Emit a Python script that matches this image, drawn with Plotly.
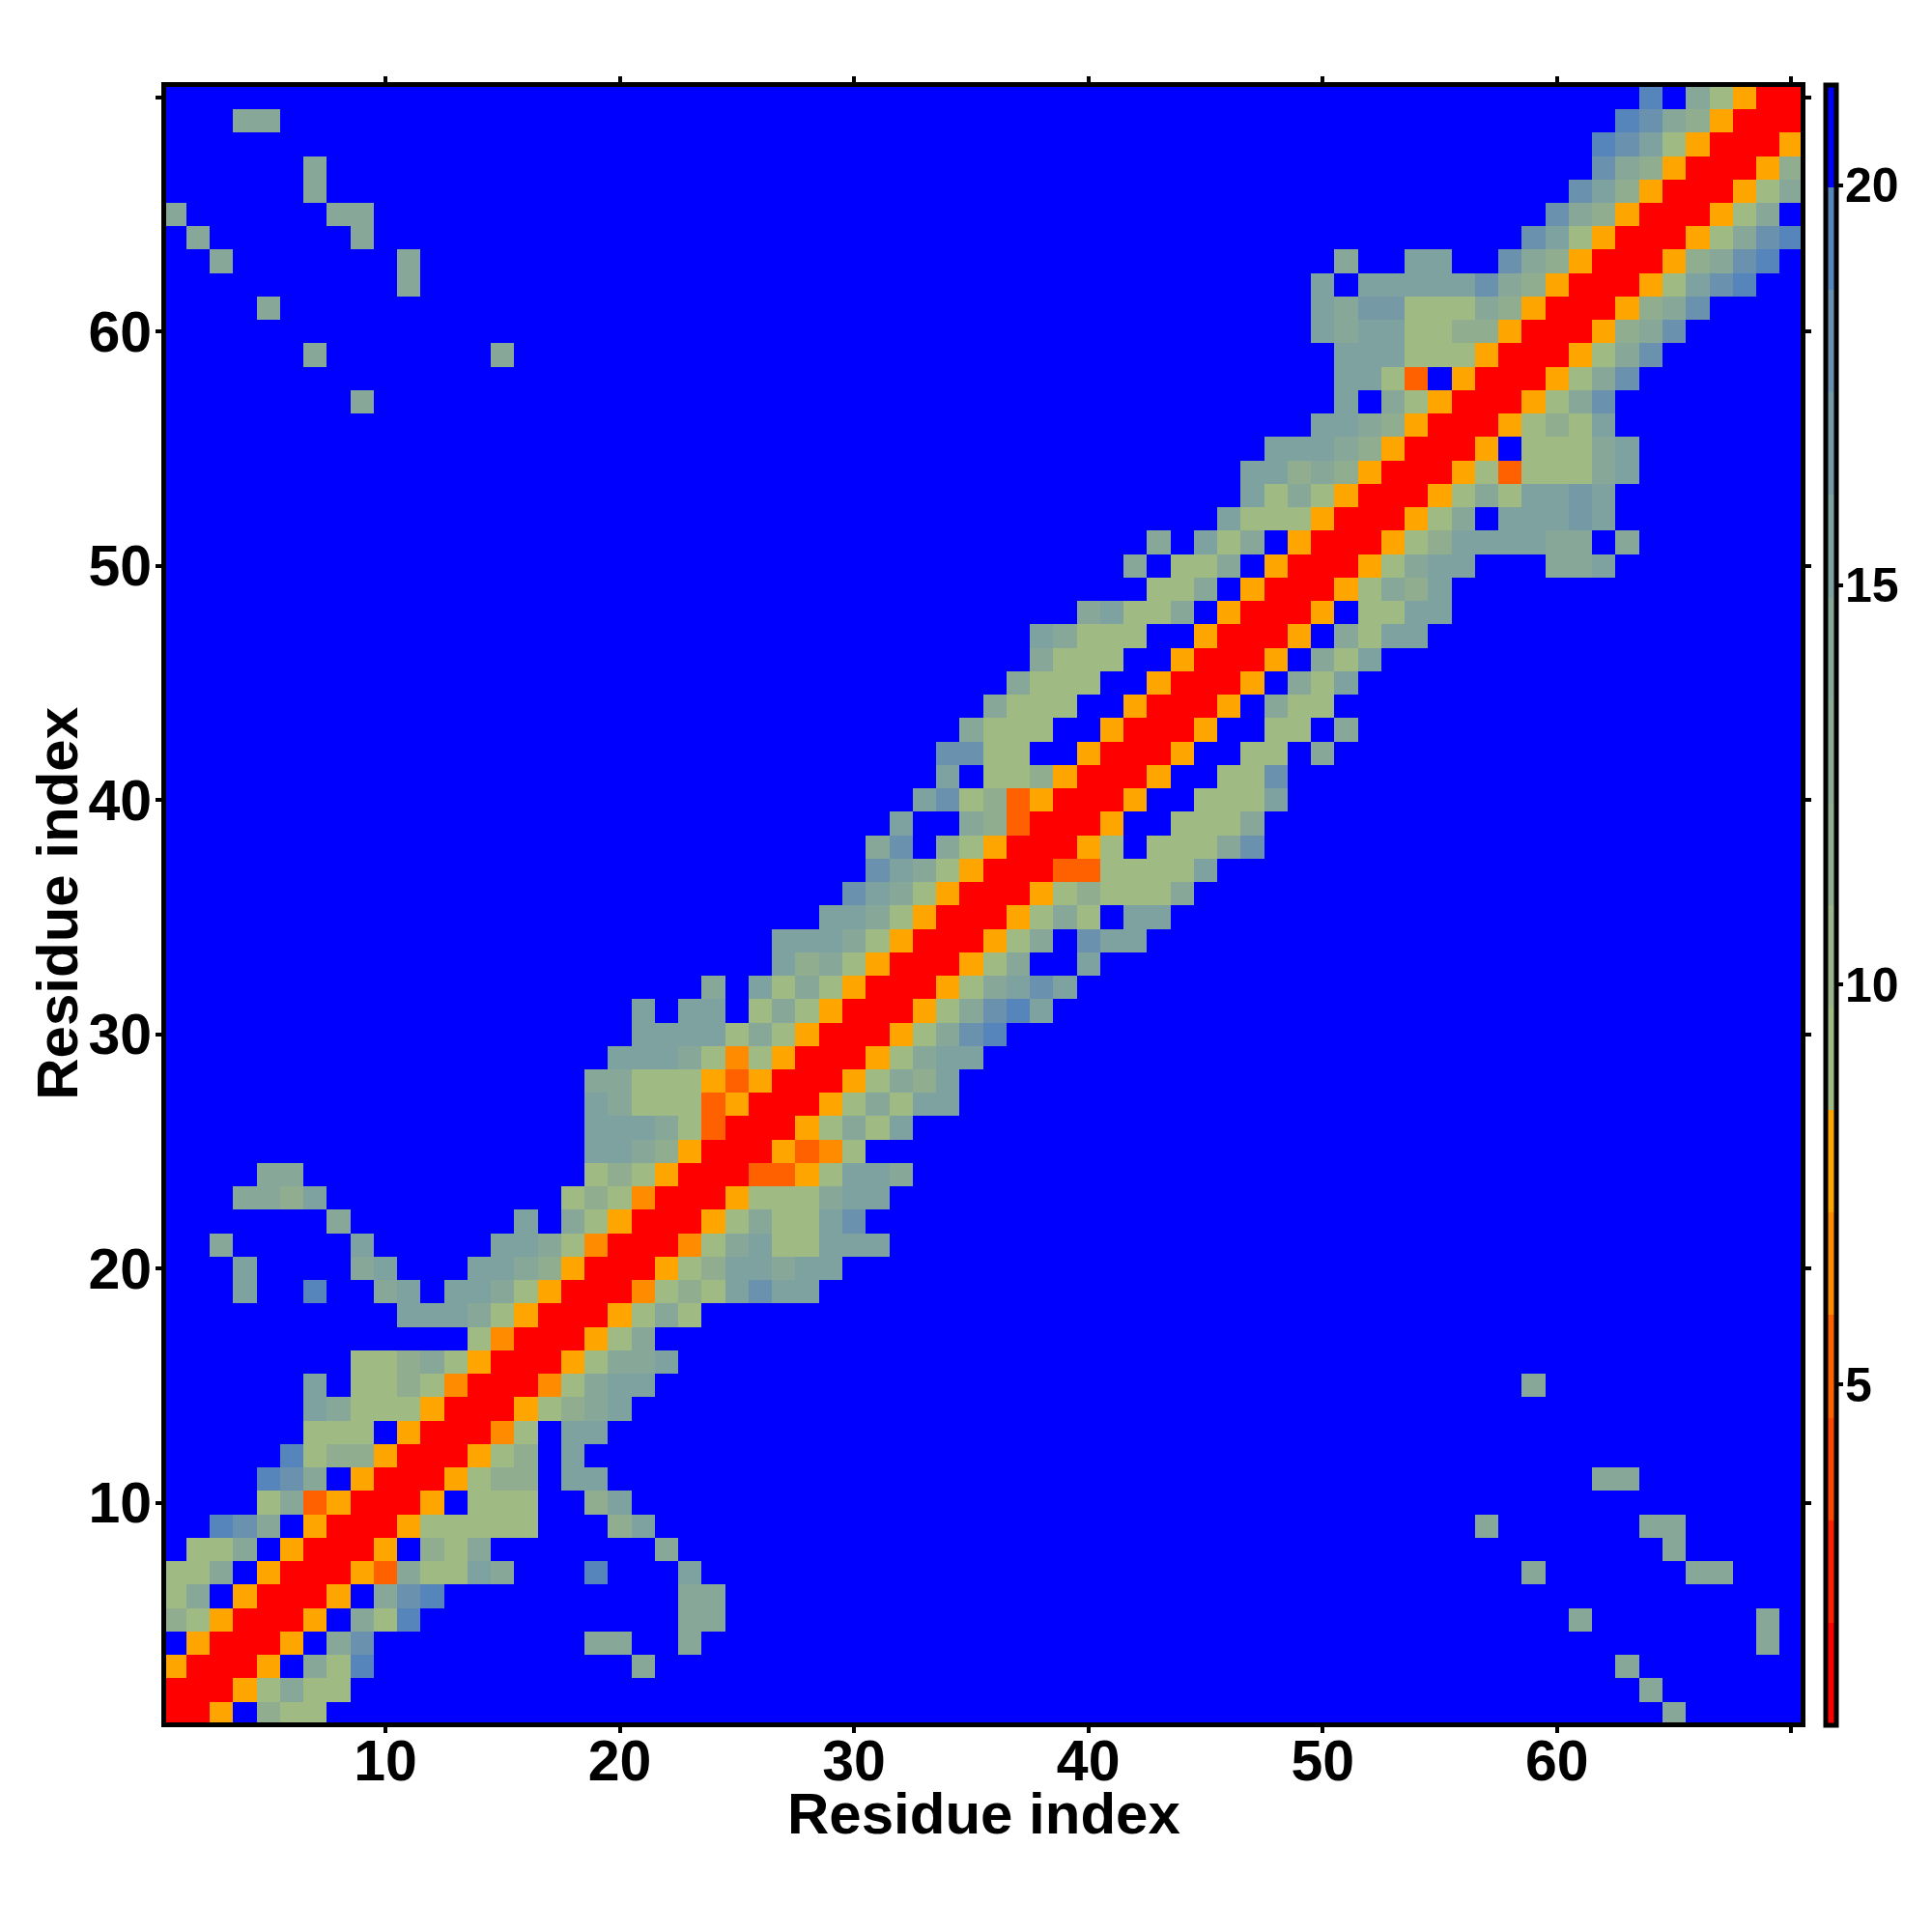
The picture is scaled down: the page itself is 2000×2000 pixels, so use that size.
import plotly.graph_objects as go

# Residue contact-distance map, binned colour levels.
residues = list(range(1, 71))
tick_values = [10, 20, 30, 40, 50, 60, 70]
tick_labels = ["10", "20", "30", "40", "50", "60", ""]
colorbar_ticks = [5, 10, 15, 20]
axis_title = "Residue index"

zmin = 0.73
zmax = 21.25
band_colors = ["#ff0000", "#ff2000", "#ff4500", "#ff6000", "#ff8c00", "#ffa500",
               "#a0ba84", "#99b589", "#90ae8f", "#8aaa94", "#87a898", "#7ea29f",
               "#7699a6", "#6a92ae", "#5585ba", "#0000ff"]
# symbol -> colour band of the reading
code_band = {"R": 0, "F": 3, "D": 4, "O": 5, "6": 6, "7": 8, "8": 10, "9": 11,
             "c": 12, "a": 13, "b": 14, ".": 15}

# row (residue y) -> runs of (first residue x, readings); everything else is the far band
rows = {
    1: [(1, "RRO.766"), (65, "8")],
    2: [(1, "RRRO6866"), (64, "8")],
    3: [(1, "ORRRO.86b"), (21, "8"), (63, "8")],
    4: [(1, ".ORRRO.8a"), (19, "88"), (23, "8"), (69, "8")],
    5: [(1, "76ORRRO.86b"), (23, "88"), (61, "8"), (69, "8")],
    6: [(1, "68.ORRRO.8ab"), (23, "88")],
    7: [(1, "668.ORRROF86698"), (19, "b"), (23, "9"), (59, "8"), (66, "88")],
    8: [(1, ".668.ORRRO.768"), (22, "8"), (65, "8")],
    9: [(3, "ba8.ORRRO66666"), (20, "79"), (57, "8"), (64, "88")],
    10: [(5, "68FORRRO.666"), (19, "79")],
    11: [(5, "ba8.ORRRO677"), (18, "99"), (62, "88")],
    12: [(6, "b677ORRRO67"), (18, "9")],
    13: [(7, "666.ORRRD6"), (18, "99")],
    14: [(7, "98666ORRRO6789")],
    15: [(7, "9.6676DRRRD6899"), (59, "8")],
    16: [(9, "66786ORRRO6889")],
    17: [(14, "6DRRRO68")],
    18: [(11, "99986ORRRO686")],
    19: [(4, "9"), (7, "b"), (10, "89"), (13, "9986ORRRD6769a99")],
    20: [(4, "9"), (9, "89"), (14, "9987ORRRO6799899")],
    21: [(3, "8"), (9, "9"), (15, "9986DRRRD68966999")],
    22: [(8, "8"), (16, "9"), (18, "86ORRRO68669a")],
    23: [(4, "8879"), (18, "676DRRRO666899")],
    24: [(5, "88"), (19, "676ORRRFFO6998")],
    25: [(19, "9987ORRROFD6")],
    26: [(19, "99986FRRRO6869")],
    27: [(19, "98666FORRRO68699")],
    28: [(19, "88666OFORRRO6879")],
    29: [(20, "99986D6ORRRO6899")],
    30: [(21, "9999686ORRRO68ab")],
    31: [(21, "9.99.686ORRRO68ab9")],
    32: [(24, "8.9686ORRRO689a9")],
    33: [(27, "9786ORRRO68"), (40, "9")],
    34: [(27, "99986ORRRO68.a99")],
    35: [(29, "9986ORRRO686.99")],
    36: [(30, "a986ORRRO676668")],
    37: [(31, "a986ORRRFF66669")],
    38: [(31, "8a.86ORRRO6.6668a")],
    39: [(32, "9..87FRRRO..6668")],
    40: [(33, "9a67FORRRO..6669")],
    41: [(34, "9.667ORRRO..66a")],
    42: [(34, "aa66..ORRRO..66.8")],
    43: [(35, "8666..ORRRO..66.8")],
    44: [(36, "8666..ORRRO.866")],
    45: [(37, "8666..ORRRO.869")],
    46: [(38, "8666..ORRRO.869")],
    47: [(38, "98666..ORRRO.8699")],
    48: [(40, "89668.ORRRO.6699")],
    49: [(43, "668.ORRRO6879")],
    50: [(42, "8.668.ORRRO6899"), (60, "889")],
    51: [(43, "8.968.ORRRO67999988.8")],
    52: [(46, "9666ORRRO68.999c9")],
    53: [(47, "9686ORRRO68699c9")],
    54: [(47, "99787ORRRO6F66689")],
    55: [(48, "99987ORRRO.66689")],
    56: [(50, "9987ORRRO6769")],
    57: [(9, "8"), (51, "9.86ORRRO68a")],
    58: [(51, "996F.ORRRO68a")],
    59: [(7, "8"), (15, "8"), (51, "999666ORRRO68a")],
    60: [(50, "98996677ORRRO78a")],
    61: [(5, "8"), (50, "98cc66687ORRRO78a")],
    62: [(11, "8"), (50, "9.99999a87ORRRO69ab")],
    63: [(3, "8"), (11, "8"), (51, "8..99..a87ORRRO78ab")],
    64: [(2, "8"), (9, "8"), (59, "a96ORRRO68ab")],
    65: [(1, "8"), (8, "88"), (60, "a87ORRRO68")],
    66: [(7, "8"), (61, "a97ORRRO68")],
    67: [(7, "8"), (62, "a87ORRRO7")],
    68: [(62, "ba96ORRRO")],
    69: [(4, "88"), (63, "ba87ORRR")],
    70: [(64, "b.86ORR")],
}

n_bands = len(band_colors)
band_size = (zmax - zmin) / n_bands


def band_value(code):
    return zmin + band_size * (code_band[code] + 0.5)


z = [[band_value(".") for _ in residues] for _ in residues]
for y, runs in rows.items():
    for start, codes in runs:
        for offset, code in enumerate(codes):
            z[y - 1][start - 1 + offset] = band_value(code)

colorscale = []
for k, color in enumerate(band_colors):
    colorscale.append([k / n_bands, color])
    colorscale.append([(k + 1) / n_bands, color])

FONT = "Liberation Sans"
PLOT_L, PLOT_R, PLOT_T, PLOT_B = 172, 1863.6, 90, 1783.5
PLOT_W, PLOT_H = PLOT_R - PLOT_L, PLOT_B - PLOT_T

fig = go.Figure(
    go.Heatmap(
        x=residues,
        y=residues,
        z=z,
        zmin=zmin,
        zmax=zmax,
        colorscale=colorscale,
        colorbar=dict(
            thickness=11,
            thicknessmode="pixels",
            x=(1889.5 - PLOT_L) / PLOT_W,
            xanchor="left",
            xpad=0,
            ypad=0,
            y=0.4995,
            yanchor="middle",
            len=1.0027,
            lenmode="fraction",
            outlinewidth=5,
            outlinecolor="black",
            borderwidth=0,
            tickmode="array",
            tickvals=colorbar_ticks,
            ticktext=[str(v) for v in colorbar_ticks],
            ticks="outside",
            ticklen=5,
            tickwidth=4,
            tickcolor="black",
            tickfont=dict(family=FONT, size=50, color="black", weight="bold"),
        ),
    )
)

axis_common = dict(
    tickmode="array",
    tickvals=tick_values,
    ticktext=tick_labels,
    ticks="outside",
    ticklen=6,
    tickwidth=4,
    tickcolor="black",
    showline=True,
    linecolor="black",
    linewidth=5,
    mirror="ticks",
    showgrid=False,
    zeroline=False,
    tickfont=dict(family=FONT, size=59, color="black", weight="bold"),
)

title_font = dict(family=FONT, size=60, color="black", weight="bold")

fig.update_layout(
    width=2000,
    height=2000,
    paper_bgcolor="white",
    plot_bgcolor="#0000ff",
    margin=dict(l=PLOT_L, r=2000 - PLOT_R, t=PLOT_T, b=2000 - PLOT_B, autoexpand=False),
    xaxis=dict(**axis_common, range=[0.643, 70.40], ticklabelstandoff=-22),
    yaxis=dict(**axis_common, range=[0.62, 70.45], ticklabelstandoff=-8),
    annotations=[
        dict(text=axis_title, xref="paper", yref="paper", showarrow=False,
             x=0.5, y=(PLOT_B - 1878) / PLOT_H, xanchor="center", yanchor="middle",
             font=title_font),
        dict(text=axis_title, xref="paper", yref="paper", showarrow=False,
             x=(60 - PLOT_L) / PLOT_W, y=(PLOT_B - 935) / PLOT_H,
             xanchor="center", yanchor="middle", textangle=-90, font=title_font),
    ],
)

shift_labels = """
document.body.style.margin = '0';
var gd = document.getElementById('{plot_id}');
Promise.resolve(gd._fullLayout ? null : null).then(function () {
  document.querySelectorAll('.cbaxis text').forEach(function (t) {
    t.setAttribute('x', parseFloat(t.getAttribute('x') || 0) - 8);
  });
});
"""
fig.write_html("out.html", config={"displayModeBar": False}, post_script=shift_labels)
